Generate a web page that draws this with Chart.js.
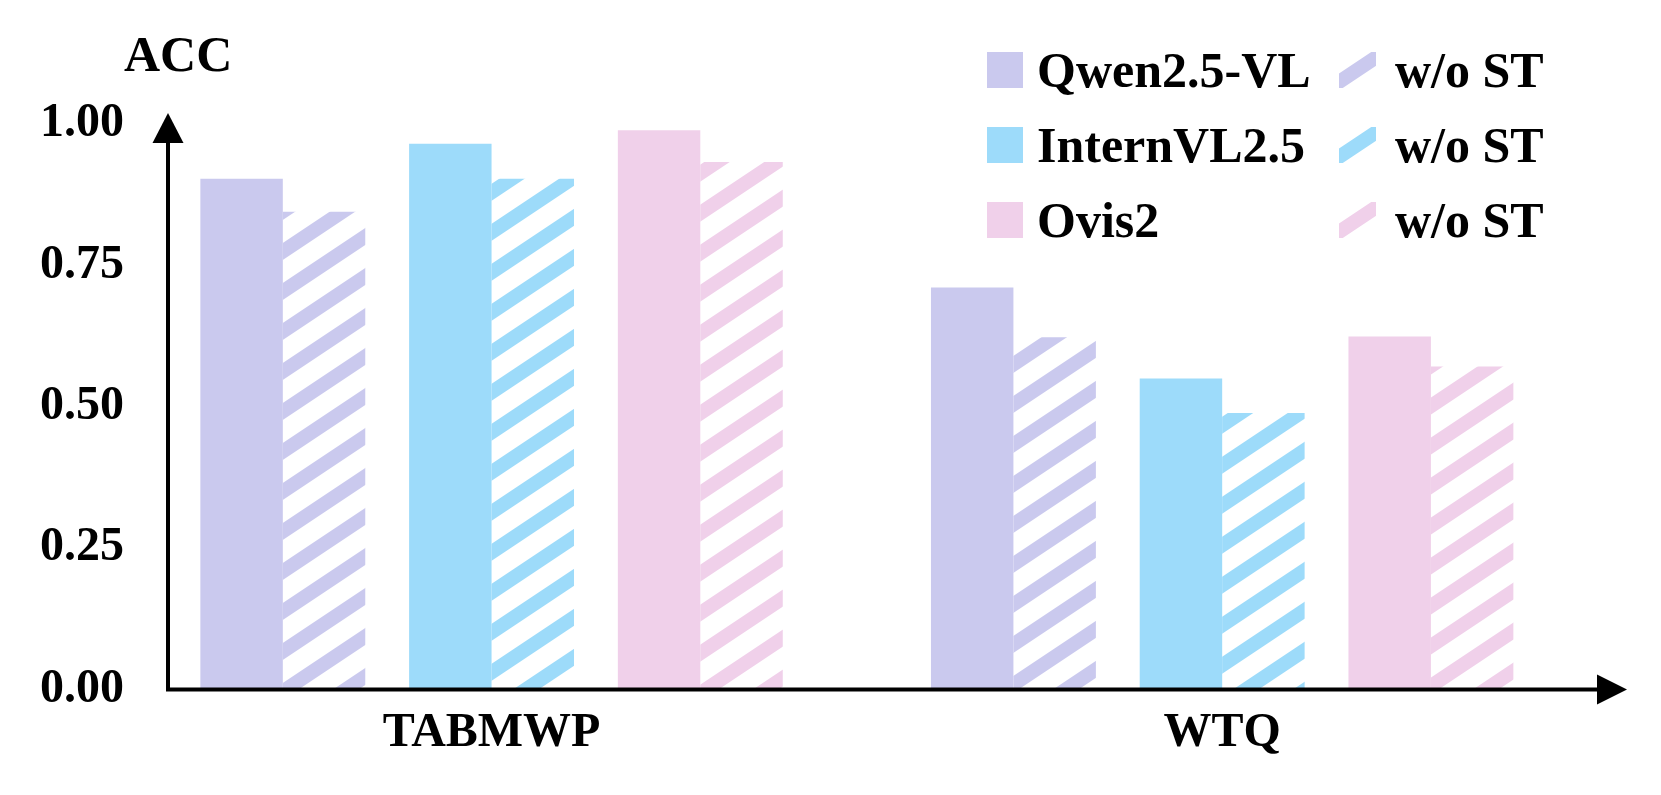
<!DOCTYPE html>
<html>
<head>
<script src="https://cdn.jsdelivr.net/npm/chart.js"></script>
<title>ACC with and without ST</title>
<style>
  html, body { margin: 0; padding: 0; background: #fff; }
  #wrap { width: 1661px; height: 795px; }
</style>
</head>
<body>
<div id="wrap"><canvas id="accChart"></canvas></div>
<script>
  // benchmarks on the x axis
  const benchmarks = ['TABMWP', 'WTQ'];
  const models = ['Qwen2.5-VL', 'InternVL2.5', 'Ovis2'];

  // accuracy per benchmark (TABMWP, WTQ)
  const qwenAcc    = [0.903, 0.711];
  const qwenNoST   = [0.845, 0.623];
  const internAcc  = [0.965, 0.550];
  const internNoST = [0.903, 0.489];
  const ovisAcc    = [0.989, 0.624];
  const ovisNoST   = [0.933, 0.571];

  const yTicks = [0, 0.25, 0.5, 0.75, 1.0];

  const modelColors = ['rgb(202,201,238)', 'rgb(157,219,250)', 'rgb(240,208,234)'];
  const FONT = '"Liberation Serif", "Times New Roman", serif';

  function makeHatch(color) {
    const tile = document.createElement('canvas');
    tile.width = 60;
    tile.height = 40;
    const c = tile.getContext('2d');
    c.fillStyle = color;
    for (let k = -1; k <= 1; k++) {
      c.beginPath();
      c.moveTo(0, 40 + 40 * k - 8.5);
      c.lineTo(60, 40 * k - 8.5);
      c.lineTo(60, 40 * k + 8.5);
      c.lineTo(0, 40 + 40 * k + 8.5);
      c.closePath();
      c.fill();
    }
    return c.createPattern(tile, 'repeat');
  }
  const hatches = modelColors.map(makeHatch);

  // slot position of each pair: groups of three, a wider gap between benchmarks
  const withRows = [qwenAcc, internAcc, ovisAcc];
  const withoutRows = [qwenNoST, internNoST, ovisNoST];
  const solidPts = [], hatchPts = [], solidCols = [], hatchCols = [];
  benchmarks.forEach((b, g) => {
    models.forEach((m, i) => {
      const x = g * 3.5 + i;
      solidPts.push({x: x, y: withRows[i][g]});
      hatchPts.push({x: x, y: withoutRows[i][g]});
      solidCols.push(modelColors[i]);
      hatchCols.push(hatches[i]);
    });
  });
  const labelSlots = benchmarks.map((b, g) => g * 3.5 + 1);

  const decor = {
    id: 'decor',
    afterDraw(chart) {
      const ctx = chart.ctx;
      const a = chart.chartArea;
      ctx.save();
      // axes with arrow heads
      ctx.strokeStyle = '#000';
      ctx.fillStyle = '#000';
      ctx.lineWidth = 4;
      ctx.beginPath();
      ctx.moveTo(a.left, a.bottom + 2);
      ctx.lineTo(a.left, 140);
      ctx.moveTo(a.left - 2, a.bottom);
      ctx.lineTo(1600, a.bottom);
      ctx.stroke();
      ctx.beginPath();
      ctx.moveTo(a.left, 113);
      ctx.lineTo(a.left - 15.5, 143);
      ctx.lineTo(a.left + 15.5, 143);
      ctx.closePath();
      ctx.fill();
      ctx.beginPath();
      ctx.moveTo(1627, a.bottom);
      ctx.lineTo(1597, a.bottom - 15);
      ctx.lineTo(1597, a.bottom + 15);
      ctx.closePath();
      ctx.fill();

      // ACC label
      ctx.font = 'bold 50px ' + FONT;
      ctx.textBaseline = 'middle';
      ctx.textAlign = 'left';
      ctx.fillText('ACC', 124, 58);

      // legend: two columns, three rows
      ctx.textBaseline = 'alphabetic';
      models.forEach((m, i) => {
        const y = 52 + i * 75;
        ctx.fillStyle = modelColors[i];
        ctx.fillRect(987, y, 36, 36);
        ctx.fillStyle = '#000';
        ctx.fillText(m, 1037, y + 35);

        ctx.save();
        ctx.translate(1339 - 12, y - 2);
        ctx.fillStyle = hatches[i];
        ctx.fillRect(12, 2, 37, 36);
        ctx.restore();
        ctx.fillStyle = '#000';
        ctx.fillText('w/o ST', 1395, y + 35);
      });
      ctx.restore();
    }
  };

  const ctx = document.getElementById('accChart').getContext('2d');
  const chart = new Chart(ctx, {
    type: 'bar',
    data: {
      datasets: [
        {label: 'ST', data: solidPts, backgroundColor: solidCols, borderWidth: 0},
        {label: 'w/o ST', data: hatchPts, backgroundColor: hatchCols, borderWidth: 0}
      ]
    },
    options: {
      responsive: true,
      maintainAspectRatio: false,
      animation: false,
      categoryPercentage: 0.79,
      barPercentage: 1.0,
      layout: { padding: { left: 4, top: 124, right: 61, bottom: 26 } },
      plugins: {
        legend: { display: false },
        tooltip: { enabled: false }
      },
      scales: {
        x: {
          type: 'linear',
          offset: false,
          min: -0.55,
          max: 6.31,
          grid: { display: false },
          border: { display: false },
          afterBuildTicks: (scale) => {
            scale.ticks = labelSlots.map(v => ({value: v}));
          },
          ticks: {
            autoSkip: false,
            maxRotation: 0,
            padding: 7,
            color: '#000',
            font: { family: FONT, size: 48, weight: 'bold' },
            callback: (v, i) => benchmarks[i]
          }
        },
        y: {
          min: 0,
          max: 1,
          grid: { display: false },
          border: { display: false },
          afterBuildTicks: (scale) => {
            scale.ticks = yTicks.map(v => ({value: v}));
          },
          ticks: {
            padding: 36,
            color: '#000',
            font: { family: FONT, size: 48, weight: 'bold' },
            callback: (v) => Number(v).toFixed(2)
          }
        }
      }
    },
    plugins: [decor]
  });
</script>
</body>
</html>
